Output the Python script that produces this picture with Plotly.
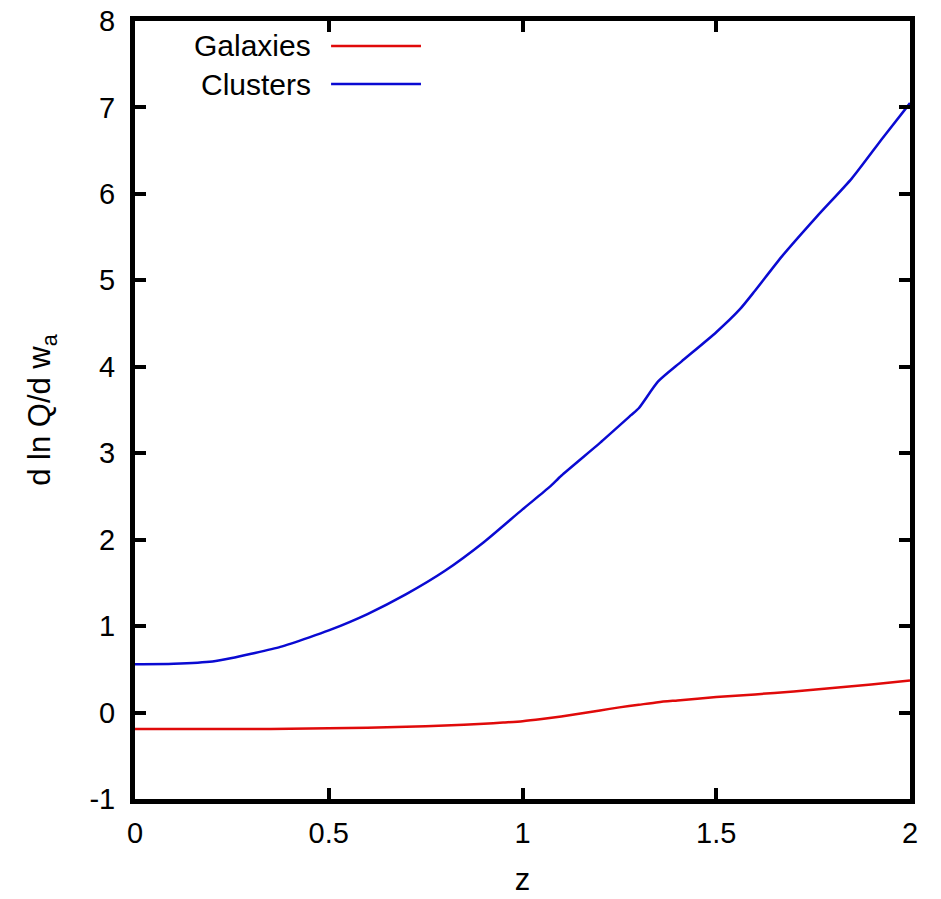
import plotly.graph_objects as go

# Data
z_galaxies = [0.0, 0.1, 0.2, 0.3, 0.4, 0.5, 0.6, 0.7, 0.8, 0.9, 0.95, 1.0, 1.05, 1.1,
              1.15, 1.2, 1.25, 1.3, 1.35, 1.4, 1.5, 1.6, 1.7, 1.8, 1.9, 2.0]
dlnq_galaxies = [-0.19, -0.19, -0.19, -0.19, -0.188, -0.183, -0.175, -0.165, -0.15, -0.13,
                 -0.115, -0.10, -0.075, -0.045, -0.01, 0.025, 0.06, 0.09, 0.12, 0.14,
                 0.18, 0.21, 0.245, 0.285, 0.325, 0.37]

z_clusters = [0.0, 0.1, 0.2, 0.25, 0.3, 0.375, 0.45, 0.5, 0.6, 0.7, 0.8, 0.9, 1.0, 1.07,
              1.1, 1.2, 1.28, 1.3, 1.35, 1.41, 1.5, 1.56, 1.6, 1.67, 1.76, 1.85, 1.93, 2.0]
dlnq_clusters = [0.56, 0.565, 0.59, 0.63, 0.68, 0.76, 0.87, 0.95, 1.14, 1.37, 1.64, 1.97,
                 2.35, 2.61, 2.74, 3.12, 3.44, 3.52, 3.83, 4.06, 4.40, 4.66, 4.88, 5.28,
                 5.74, 6.18, 6.65, 7.05]

x_ticks = [0, 0.5, 1, 1.5, 2]
x_tick_labels = ["0", "0.5", "1", "1.5", "2"]
y_ticks = [-1, 0, 1, 2, 3, 4, 5, 6, 7, 8]
y_tick_labels = ["-1", "0", "1", "2", "3", "4", "5", "6", "7", "8"]

series_names = ["Galaxies", "Clusters"]
series_colors = ["#e00a0a", "#0a0ad2"]

FONT = "Liberation Sans, Arial, Helvetica, sans-serif"

fig = go.Figure()
fig.add_trace(go.Scatter(x=z_galaxies, y=dlnq_galaxies, mode="lines", name=series_names[0],
                         line=dict(color=series_colors[0], width=2.5, shape="spline", smoothing=0.6),
                         showlegend=False))
fig.add_trace(go.Scatter(x=z_clusters, y=dlnq_clusters, mode="lines", name=series_names[1],
                         line=dict(color=series_colors[1], width=2.5, shape="spline", smoothing=0.6),
                         showlegend=False))

axis_common = dict(
    showline=True, linecolor="black", linewidth=5, mirror="ticks",
    ticks="inside", ticklen=11, tickwidth=4, tickcolor="black",
    showgrid=False, zeroline=False, automargin=False,
    tickfont=dict(family=FONT, size=29, color="black"),
)

fig.update_xaxes(range=[0, 2], tickvals=x_ticks, ticktext=x_tick_labels,
                 title=dict(text="z", font=dict(family=FONT, size=31, color="black"), standoff=22),
                 ticklabelstandoff=4, **axis_common)
fig.update_yaxes(range=[-1, 8], tickvals=y_ticks, ticktext=y_tick_labels,
                 title=dict(text="d ln Q/d w<sub>a</sub>", font=dict(family=FONT, size=31, color="black"), standoff=31),
                 ticklabelstandoff=9, **axis_common)

# Manual legend (text on the left, line sample on the right, as in the reference)
legend_y = [0.968, 0.919]
for name, color, ly in zip(series_names, series_colors, legend_y):
    fig.add_annotation(xref="paper", yref="paper", x=0.228, y=ly, text=name, showarrow=False,
                       xanchor="right", yanchor="middle", borderpad=0,
                       font=dict(family=FONT, size=30, color="black"))
    fig.add_shape(type="line", xref="paper", yref="paper", x0=0.253, x1=0.369, y0=ly, y1=ly,
                  line=dict(color=color, width=2.5))

fig.update_layout(
    template="none",
    width=941, height=899,
    margin=dict(l=135, r=31, t=21, b=100, autoexpand=False),
    plot_bgcolor="white", paper_bgcolor="white",
    font=dict(family=FONT, color="black"),
)

fig.write_html("out.html")
